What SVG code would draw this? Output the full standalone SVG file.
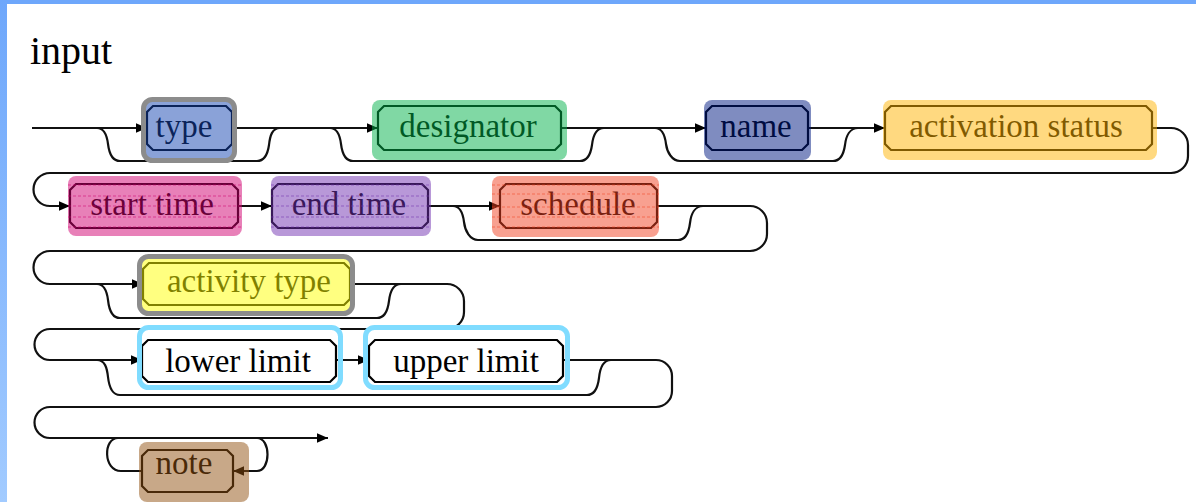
<svg xmlns="http://www.w3.org/2000/svg" width="1196" height="502" viewBox="0 0 1196 502">
<defs>
<linearGradient id="lb" x1="0" y1="0" x2="0" y2="1"><stop offset="0" stop-color="#6ea7fb"/><stop offset="1" stop-color="#a2cbff"/></linearGradient>
<marker id="ah" markerUnits="userSpaceOnUse" markerWidth="12" markerHeight="10" refX="11" refY="4.75" orient="auto"><path d="M0,0 L11,4.75 L0,9.5 Z" fill="#000"/></marker>
</defs>
<style>
.c{fill:none;stroke:#111;stroke-width:2.2}
.a{marker-end:url(#ah)}
.b{fill:#fff;stroke:#000;stroke-width:2.2}
.t{font-family:'Liberation Serif','DejaVu Serif','Noto Serif',serif;font-size:33px;fill:#000;text-anchor:middle}
.ti{font-family:'Liberation Serif','DejaVu Serif','Noto Serif',serif;font-size:40px;fill:#000}
.o{fill-opacity:0.5}
.g{fill:none;stroke:#8c8c8c;stroke-width:5}
.l{fill:none;stroke:#80dcff;stroke-width:5}
.s{stroke-width:1;stroke-dasharray:3 2;stroke-opacity:0.55}
</style>
<rect width="1196" height="502" fill="#fff"/>
<rect x="0" y="0" width="1196" height="4" fill="#6ea7fb"/>
<rect x="0" y="0" width="7" height="502" fill="url(#lb)"/>
<text class="ti" x="30" y="64">input</text>

<g id="connectors">
<path class="c a" d="M32,128 H147"/>
<path class="c a" d="M232,128 H378"/>
<path class="c a" d="M561,128 H706"/>
<path class="c a" d="M808,128 H885"/>
<path class="c a" d="M1152,128 H1171 A17,17 0 0 1 1188,145 V156 A17,17 0 0 1 1171,173 H50 A16.5,16.5 0 0 0 50,206 H70"/>
<path class="c" d="M97,128 C105,128 107,136 108,144 C109,152 112,161 120,161 H257 C265,161 268,152 269,145 C270,136 272,128 280,128"/>
<path class="c" d="M330,128 C338,128 340,136 341,144 C342,152 345,161 353,161 H580 C588,161 591,152 592,145 C593,136 596,128 604,128"/>
<path class="c" d="M655,128 C663,128 665,136 666,144 C667,152 672,161 680,161 H833 C841,161 844,152 845,145 C846,136 850,128 858,128"/>
<path class="c a" d="M238,206 H272"/>
<path class="c a" d="M428,206 H500"/>
<path class="c" d="M453,206 C461,206 463,214 464,222 C465,231 470,240 478,240 H678 C686,240 689,231 690,223 C691,214 695,206 703,206"/>
<path class="c a" d="M657,206 H750 A17,17 0 0 1 767,223 V234 A17,17 0 0 1 750,251 H50 A16.5,16.5 0 0 0 50,284 H143"/>
<path class="c" d="M97,284 C105,284 107,292 108,300 C109,309 112,318 120,318 H377 C385,318 388,309 389,301 C390,292 393,284 401,284"/>
<path class="c a" d="M350,284 H447 A17,17 0 0 1 464,301 V312 A17,17 0 0 1 447,329 H50 A15.5,15.5 0 0 0 50,360 H142"/>
<path class="c a" d="M336,360 H369"/>
<path class="c" d="M97,360 C105,360 107,368 108,377 C109,386 112,395 120,395 H587 C595,395 598,386 599,378 C600,368 603,360 611,360"/>
<path class="c a" d="M563,360 H656 A16,16 0 0 1 672,376 V391 A16,16 0 0 1 656,407 H50 A15.5,15.5 0 0 0 50,438 H328"/>
<path class="c a" d="M257,438 C271,438 271,471 257,471 H233"/>
<path class="c" d="M142,471 H121 C103,471 103,438 118,438"/>
</g>

<g id="node-type">
<path class="b" d="M153,106 H226 L232,112 V144 L226,150 H153 L147,144 V112 Z"/>
<text class="t" x="184" y="137">type</text>
<rect class="o" x="144" y="100" width="90" height="60" rx="7" fill="#1545b1"/>
<rect class="g" x="143.5" y="99.5" width="91" height="61" rx="9"/>
</g>
<g id="node-designator">
<path class="b" d="M384,106 H555 L561,112 V144 L555,150 H384 L378,144 V112 Z"/>
<text class="t" x="468" y="137">designator</text>
<rect class="o" x="372" y="100" width="195" height="60" rx="8" fill="#01b149"/>
</g>
<g id="node-name">
<path class="b" d="M712,106 H802 L808,112 V144 L802,150 H712 L706,144 V112 Z"/>
<text class="t" x="756" y="137">name</text>
<rect class="o" x="704" y="100" width="107" height="60" rx="8" fill="#001981"/>
</g>
<g id="node-activation-status">
<path class="b" d="M891,106 H1146 L1152,112 V144 L1146,150 H891 L885,144 V112 Z"/>
<text class="t" x="1016" y="137">activation status</text>
<rect class="o" x="883" y="100" width="274" height="60" rx="8" fill="#ffb301"/>
</g>
<g id="node-start-time">
<path class="b" d="M76,184 H232 L238,190 V222 L232,228 H76 L70,222 V190 Z"/>
<text class="t" x="152" y="215">start time</text>
<rect class="o" x="68" y="176" width="174" height="60" rx="8" fill="#d10171"/>
<g class="s" stroke="#d10171"><path d="M68,185 H242 M68,196 H242 M68,206 H242 M68,217 H242 M68,227 H242"/></g>
</g>
<g id="node-end-time">
<path class="b" d="M278,184 H422 L428,190 V222 L422,228 H278 L272,222 V190 Z"/>
<text class="t" x="349" y="215">end time</text>
<rect class="o" x="271" y="176" width="160" height="60" rx="8" fill="#7131b1"/>
<g class="s" stroke="#7131b1"><path d="M271,185 H431 M271,196 H431 M271,206 H431 M271,217 H431 M271,227 H431"/></g>
</g>
<g id="node-schedule">
<path class="b" d="M506,184 H651 L657,190 V222 L651,228 H506 L500,222 V190 Z"/>
<text class="t" x="578" y="215">schedule</text>
<rect class="o" x="492" y="176" width="167" height="61" rx="8" fill="#f14121"/>
<g class="s" stroke="#f14121"><path d="M492,185 H659 M492,194 H659 M492,207 H659 M492,217 H659 M492,227 H659"/></g>
</g>
<g id="node-activity-type">
<path class="b" d="M149,263 H344 L350,269 V299 L344,305 H149 L143,299 V269 Z"/>
<text class="t" x="249" y="292">activity type</text>
<rect class="o" x="140" y="257" width="212" height="56" rx="7" fill="#ffff01"/>
<rect class="g" x="139.5" y="256.5" width="213" height="57" rx="9"/>
</g>
<g id="node-lower-limit">
<path class="b" d="M148,340 H330 L336,346 V376 L330,382 H148 L142,376 V346 Z"/>
<text class="t" x="238" y="372">lower limit</text>
<rect class="l" x="139.5" y="327.5" width="201" height="60" rx="9"/>
</g>
<g id="node-upper-limit">
<path class="b" d="M375,340 H557 L563,346 V376 L557,382 H375 L369,376 V346 Z"/>
<text class="t" x="466" y="372">upper limit</text>
<rect class="l" x="365.5" y="327.5" width="202" height="60" rx="9"/>
</g>
<g id="node-note">
<path class="b" d="M148,450 H227 L233,456 V486 L227,492 H148 L142,486 V456 Z"/>
<text class="t" x="184" y="474">note</text>
<rect class="o" x="139" y="442" width="110" height="60" rx="8" fill="#915111"/>
</g>
</svg>
